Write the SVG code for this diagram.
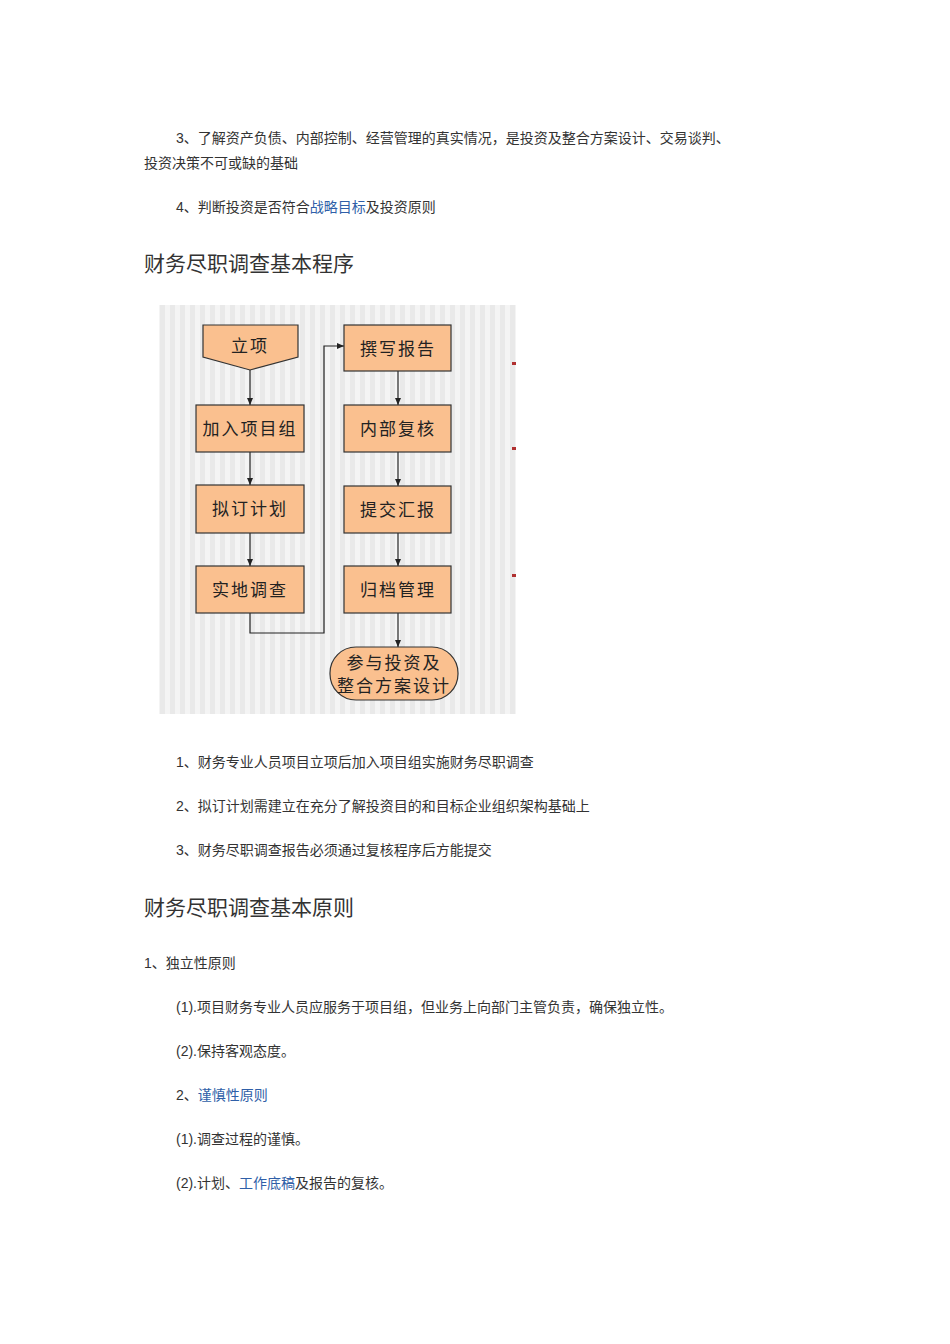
<svg xmlns="http://www.w3.org/2000/svg" width="950" height="1344" viewBox="0 0 950 1344">
<defs>
<pattern id="stripes" width="10" height="10" patternUnits="userSpaceOnUse"><rect width="10" height="10" fill="#f4f4f4"/><rect width="5" height="10" fill="#e9e9e9"/></pattern>
<marker id="ar" markerWidth="8" markerHeight="8" refX="7" refY="4" orient="auto" markerUnits="userSpaceOnUse"><path d="M0,1 L7,4 L0,7 Z" fill="#222"/></marker>
</defs>
<style>
.t{font-family:"Liberation Sans","Noto Sans CJK SC",sans-serif;font-size:14px;fill:#333}
.h{font-family:"Liberation Sans","Noto Sans CJK SC",sans-serif;font-size:21px;fill:#333}
.l{fill:#2f5fa8}
.b{fill:#fac08f;stroke:#333;stroke-width:1.2}
.bt{font-family:"Noto Sans CJK SC",sans-serif;font-size:17px;fill:#222;text-anchor:middle;letter-spacing:2px}
.c{fill:none;stroke:#222;stroke-width:1.2}
</style>
<rect width="950" height="1344" fill="#fff"/>
<text class="t" x="176" y="143">3、了解资产负债、内部控制、经营管理的真实情况，是投资及整合方案设计、交易谈判、</text>
<text class="t" x="144" y="168">投资决策不可或缺的基础</text>
<text class="t" x="176" y="212">4、判断投资是否符合<tspan class="l">战略目标</tspan>及投资原则</text>
<text class="h" x="144" y="271">财务尽职调查基本程序</text>
<rect x="159" y="305" width="357" height="409" fill="url(#stripes)"/>
<rect x="512" y="362" width="4" height="3" fill="#b03030"/>
<rect x="512" y="447" width="4" height="3" fill="#b03030"/>
<rect x="512" y="574" width="4" height="3" fill="#b03030"/>
<g id="connectors">
<line class="c" x1="250" y1="370" x2="250" y2="405" marker-end="url(#ar)"/>
<line class="c" x1="250" y1="452" x2="250" y2="485" marker-end="url(#ar)"/>
<line class="c" x1="250" y1="533" x2="250" y2="566" marker-end="url(#ar)"/>
<polyline class="c" points="250,613 250,633 324,633 324,346 344,346" marker-end="url(#ar)"/>
<line class="c" x1="398" y1="371" x2="398" y2="405" marker-end="url(#ar)"/>
<line class="c" x1="398" y1="452" x2="398" y2="486" marker-end="url(#ar)"/>
<line class="c" x1="398" y1="533" x2="398" y2="566" marker-end="url(#ar)"/>
<line class="c" x1="398" y1="613" x2="398" y2="647" marker-end="url(#ar)"/>
</g>
<g id="n1"><polygon class="b" points="203,325 298,325 298,357 250,370 203,357"/><text class="bt" x="250" y="352">立项</text></g>
<g id="n2"><rect class="b" x="196" y="405" width="108" height="47"/><text class="bt" x="250" y="435">加入项目组</text></g>
<g id="n3"><rect class="b" x="196" y="485" width="108" height="48"/><text class="bt" x="250" y="515">拟订计划</text></g>
<g id="n4"><rect class="b" x="196" y="566" width="108" height="47"/><text class="bt" x="250" y="596">实地调查</text></g>
<g id="n5"><rect class="b" x="344" y="325" width="107" height="46"/><text class="bt" x="398" y="355">撰写报告</text></g>
<g id="n6"><rect class="b" x="344" y="405" width="107" height="47"/><text class="bt" x="398" y="435">内部复核</text></g>
<g id="n7"><rect class="b" x="344" y="486" width="107" height="47"/><text class="bt" x="398" y="516">提交汇报</text></g>
<g id="n8"><rect class="b" x="344" y="566" width="107" height="47"/><text class="bt" x="398" y="596">归档管理</text></g>
<g id="n9"><rect class="b" x="330" y="647" width="128" height="53" rx="26"/><text class="bt" x="394" y="669">参与投资及</text><text class="bt" x="394" y="692">整合方案设计</text></g>
<text class="t" x="176" y="767">1、财务专业人员项目立项后加入项目组实施财务尽职调查</text>
<text class="t" x="176" y="811">2、拟订计划需建立在充分了解投资目的和目标企业组织架构基础上</text>
<text class="t" x="176" y="855">3、财务尽职调查报告必须通过复核程序后方能提交</text>
<text class="h" x="144" y="915">财务尽职调查基本原则</text>
<text class="t" x="144" y="968">1、独立性原则</text>
<text class="t" x="176" y="1012">(1).项目财务专业人员应服务于项目组，但业务上向部门主管负责，确保独立性。</text>
<text class="t" x="176" y="1056">(2).保持客观态度。</text>
<text class="t" x="176" y="1100">2、<tspan class="l">谨慎性原则</tspan></text>
<text class="t" x="176" y="1144">(1).调查过程的谨慎。</text>
<text class="t" x="176" y="1188">(2).计划、<tspan class="l">工作底稿</tspan>及报告的复核。</text>
</svg>
